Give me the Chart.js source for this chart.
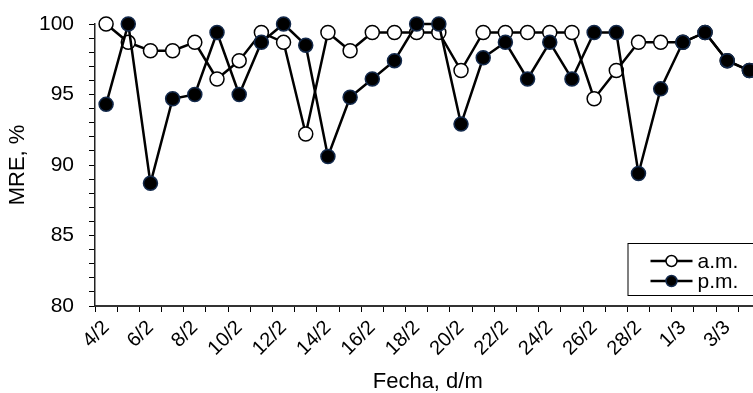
<!DOCTYPE html>
<html>
<head>
<meta charset="utf-8">
<script src="https://cdn.jsdelivr.net/npm/chart.js@4/dist/chart.umd.min.js"></script>
<style>
  body { margin: 0; overflow: hidden; background: #fff; }
  #wrap { width: 769px; height: 393px; position: relative; }
</style>
</head>
<body>
<div id="wrap"><canvas id="mre-chart"></canvas></div>
<script>
// fechas del periodo (2/2024, bisiesto)
let dates = [
  "4/2", "5/2", "6/2", "7/2", "8/2", "9/2", "10/2", "11/2", "12/2", "13/2",
  "14/2", "15/2", "16/2", "17/2", "18/2", "19/2", "20/2", "21/2", "22/2", "23/2",
  "24/2", "25/2", "26/2", "27/2", "28/2", "29/2", "1/3", "2/3", "3/3", "4/3",
];
let amValues = [
  100, 98.7, 98.1, 98.1, 98.7, 96.1, 97.4, 99.4, 98.7, 92.2,
  99.4, 98.1, 99.4, 99.4, 99.4, 99.4, 96.7, 99.4, 99.4, 99.4,
  99.4, 99.4, 94.7, 96.7, 98.7, 98.7, 98.7, 99.4, 97.4, 96.7,
];
let pmValues = [
  94.3, 100, 88.7, 94.7, 95.0, 99.4, 95.0, 98.7, 100, 98.5,
  90.6, 94.8, 96.1, 97.4, 100, 100, 92.9, 97.6, 98.7, 96.1,
  98.7, 96.1, 99.4, 99.4, 89.4, 95.4, 98.7, 99.4, 97.4, 96.7,
];
let seriesNames = ["a.m.", "p.m."];
let yTicks = [80, 85, 90, 95, 100];

let fontFamily = "'Liberation Sans', Arial, sans-serif";

// leyenda con linea + marcador, en recuadro
let boxLegend = {
  id: "boxLegend",
  afterDraw(chart) {
    let ctx = chart.ctx;
    let area = chart.chartArea;
    let left = area.right - 133;
    let top = area.bottom - 63;
    ctx.save();
    ctx.strokeStyle = "#000";
    ctx.lineWidth = 1;
    ctx.strokeRect(left + 0.5, top + 0.5, 140, 52);
    chart.data.datasets.forEach((ds, i) => {
      let y = top + 18 + i * 20;
      ctx.strokeStyle = "#000";
      ctx.lineWidth = 2.5;
      ctx.beginPath();
      ctx.moveTo(left + 23, y);
      ctx.lineTo(left + 65, y);
      ctx.stroke();
      ctx.beginPath();
      ctx.arc(left + 44, y, 5.5, 0, Math.PI * 2);
      ctx.fillStyle = ds.pointBackgroundColor;
      ctx.fill();
      ctx.lineWidth = 1.5;
      ctx.strokeStyle = ds.pointBorderColor;
      ctx.stroke();
      ctx.fillStyle = "#000";
      ctx.font = "21px " + fontFamily;
      ctx.textBaseline = "middle";
      ctx.fillText(ds.label, left + 70, y + 1);
    });
    ctx.restore();
  },
};

let renderChart = () => {
  let canvas = document.getElementById("mre-chart");
  new Chart(canvas, {
    type: "line",
    plugins: [boxLegend],
    data: {
      labels: dates,
      datasets: [
        {
          label: seriesNames[0],
          data: amValues,
          borderColor: "#000",
          borderWidth: 2.5,
          pointRadius: 7,
          pointBackgroundColor: "#fff",
          pointBorderColor: "#000",
          pointBorderWidth: 1.5,
          tension: 0,
          clip: false,
          order: 1,
        },
        {
          label: seriesNames[1],
          data: pmValues,
          borderColor: "#000",
          borderWidth: 2.5,
          pointRadius: 7,
          pointBackgroundColor: "#000",
          pointBorderColor: "#13294b",
          pointBorderWidth: 1.5,
          tension: 0,
          clip: false,
          order: 0,
        },
      ],
    },
    options: {
      responsive: true,
      maintainAspectRatio: false,
      animation: false,
      layout: { padding: { top: 24, right: 2, left: 0, bottom: 0 } },
      plugins: {
        legend: { display: false },
        tooltip: { enabled: false },
      },
      scales: {
        x: {
          offset: true,
          grid: {
            offset: true,
            drawOnChartArea: false,
            drawTicks: true,
            tickLength: 6,
            color: "#000",
          },
          border: { color: "#333", width: 2 },
          ticks: {
            autoSkip: false,
            maxRotation: 45,
            minRotation: 45,
            padding: 4,
            color: "#000",
            font: { family: fontFamily, size: 20 },
            callback: function (val, idx) {
              return idx % 2 === 0 ? this.getLabelForValue(val) : "";
            },
          },
          title: {
            display: true,
            text: "Fecha, d/m",
            color: "#000",
            font: { family: fontFamily, size: 22, lineHeight: 1 },
            padding: { top: 0, bottom: 0 },
          },
          afterFit: (scale) => {
            scale.height = 87;
            scale.paddingLeft = 0;
            scale.paddingRight = 0;
          },
        },
        y: {
          min: 80,
          max: 100,
          grid: {
            drawOnChartArea: false,
            drawTicks: true,
            tickLength: 6,
            color: "#000",
          },
          border: { color: "#222", width: 1.5 },
          ticks: {
            stepSize: 1,
            autoSkip: false,
            padding: 15,
            color: "#000",
            font: { family: fontFamily, size: 21 },
            callback: (v) => (yTicks.includes(v) ? v : ""),
          },
          title: {
            display: true,
            text: "MRE, %",
            color: "#000",
            font: { family: fontFamily, size: 22, lineHeight: 1 },
            padding: { top: 7, bottom: 0 },
          },
          afterFit: (scale) => {
            scale.width = 95;
            scale.paddingTop = 0;
            scale.paddingBottom = 0;
          },
        },
      },
    },
  });
};

renderChart();
</script>
</body>
</html>
